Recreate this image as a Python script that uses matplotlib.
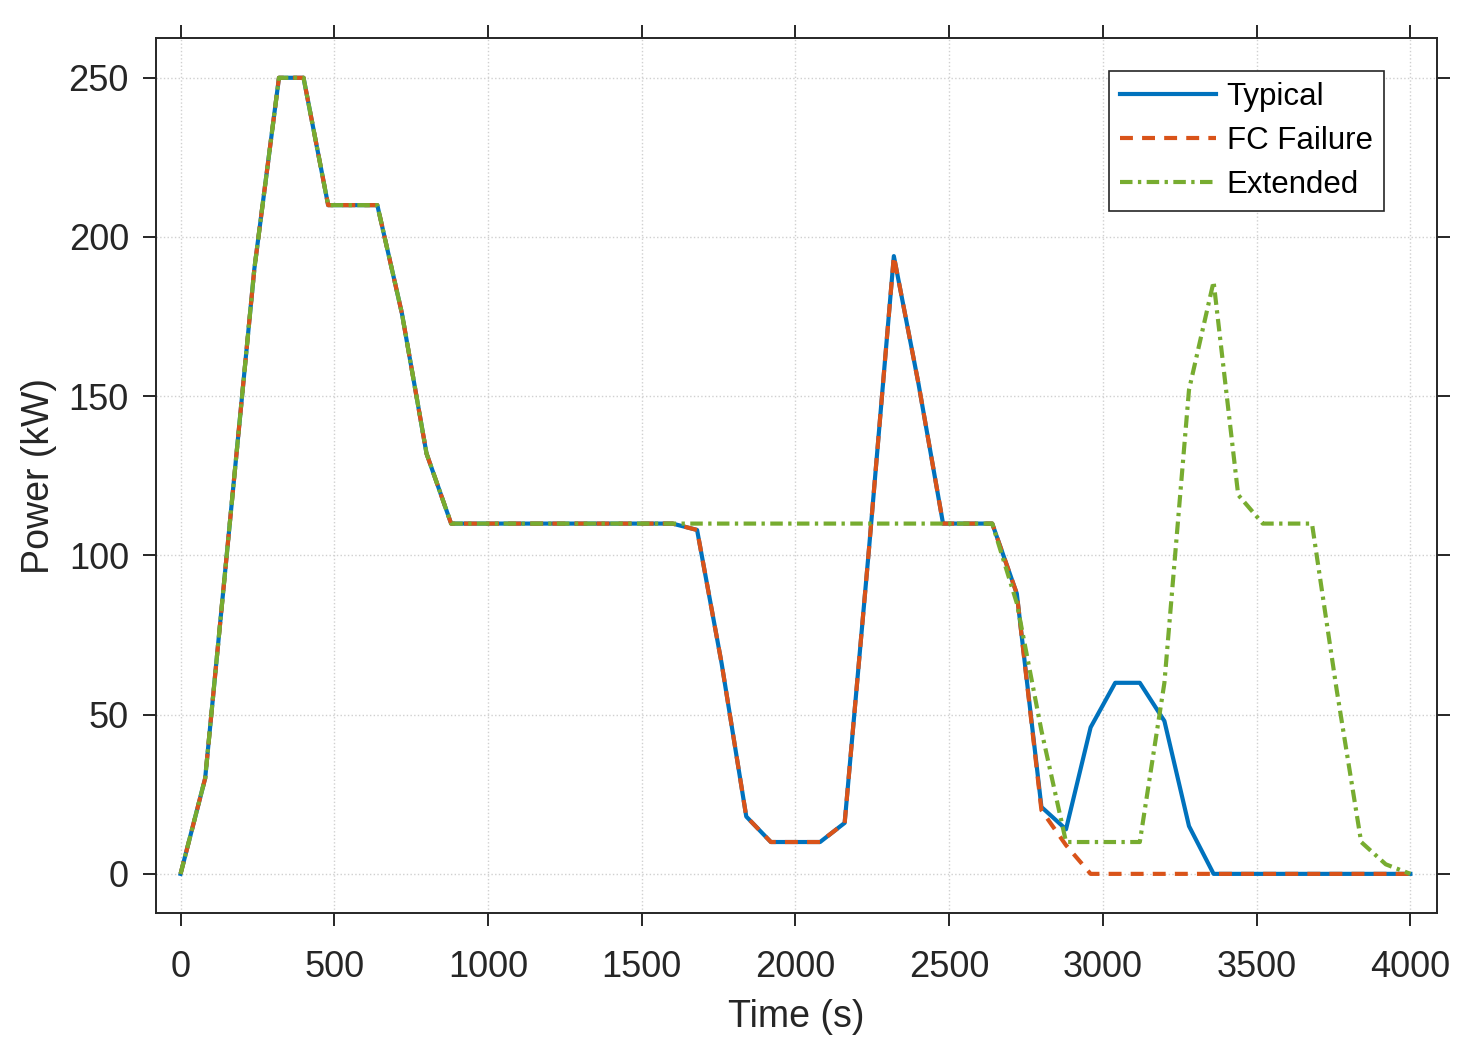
import numpy as np
import matplotlib.pyplot as plt

# tempo (s), um ponto a cada 80 s
tempo = [0, 80, 160, 240, 320, 400, 480, 560, 640, 720, 800, 880, 960, 1040,
         1120, 1200, 1280, 1360, 1440, 1520, 1600, 1680, 1760, 1840, 1920,
         2000, 2080, 2160, 2240, 2320, 2400, 2480, 2560, 2640, 2720, 2800,
         2880, 2960, 3040, 3120, 3200, 3280, 3360, 3440, 3520, 3600, 3680,
         3760, 3840, 3920, 4000]

typical = [0, 30, 110, 190, 250, 250, 210, 210, 210, 176, 132, 110, 110, 110,
           110, 110, 110, 110, 110, 110, 110, 108, 66, 18, 10,
           10, 10, 16, 103, 194, 154, 110, 110, 110, 88, 21,
           14, 46, 60, 60, 48, 15, 0, 0, 0, 0, 0,
           0, 0, 0, 0]

fc_failure = [0, 30, 110, 190, 250, 250, 210, 210, 210, 176, 132, 110, 110, 110,
              110, 110, 110, 110, 110, 110, 110, 108, 66, 18, 10,
              10, 10, 16, 103, 194, 154, 110, 110, 110, 88, 20,
              9, 0, 0, 0, 0, 0, 0, 0, 0, 0, 0,
              0, 0, 0, 0]

extended = [0, 30, 110, 190, 250, 250, 210, 210, 210, 176, 132, 110, 110, 110,
            110, 110, 110, 110, 110, 110, 110, 110, 110, 110, 110,
            110, 110, 110, 110, 110, 110, 110, 110, 110, 85, 45,
            10, 10, 10, 10, 60, 152, 186, 119, 110, 110, 110,
            58, 10, 3, 0]

plt.rcParams['font.family'] = ['Liberation Sans', 'DejaVu Sans']

fig = plt.figure(figsize=(14.77, 10.52), dpi=100)
ax = fig.add_axes([0.1056, 0.1321, 0.8676, 0.8318])

cinza = '#262626'
ax.plot(tempo, typical, color='#0072BD', lw=3.0, label='Typical')
ax.plot(tempo, fc_failure, color='#D95319', lw=3.0, dashes=(3.1, 2.2), label='FC Failure')
ax.plot(tempo, extended, color='#77AC30', lw=3.0, dashes=(3.0, 1.3, 0.8, 1.3), label='Extended')

ax.set_xlim(-80, 4088)
ax.set_ylim(-12.3, 262.5)
ax.set_xticks(np.arange(0, 4001, 500))
ax.set_yticks(np.arange(0, 251, 50))

ax.grid(True, color='#d0d0d0', linestyle=':', linewidth=1.0)
ax.set_axisbelow(True)

for s in ax.spines.values():
    s.set_color(cinza)
    s.set_linewidth(1.4)

ax.tick_params(direction='out', length=9.5, width=1.4, colors=cinza,
               labelsize=26, top=True, right=True)
ax.tick_params(axis='x', pad=17)
ax.tick_params(axis='y', pad=10)

ax.set_xlabel('Time (s)', fontsize=27, color=cinza, labelpad=10)
ax.set_ylabel('Power (kW)', fontsize=27, color=cinza, labelpad=8)

leg = ax.legend(loc='upper right', bbox_to_anchor=(0.958, 0.962), fontsize=22.5,
                handlelength=3.05, fancybox=False, framealpha=1,
                edgecolor=cinza, borderpad=0.35, labelspacing=0.45,
                handletextpad=0.35, borderaxespad=0)
leg.get_frame().set_linewidth(1.2)

fig.savefig('out.png', dpi=100)
